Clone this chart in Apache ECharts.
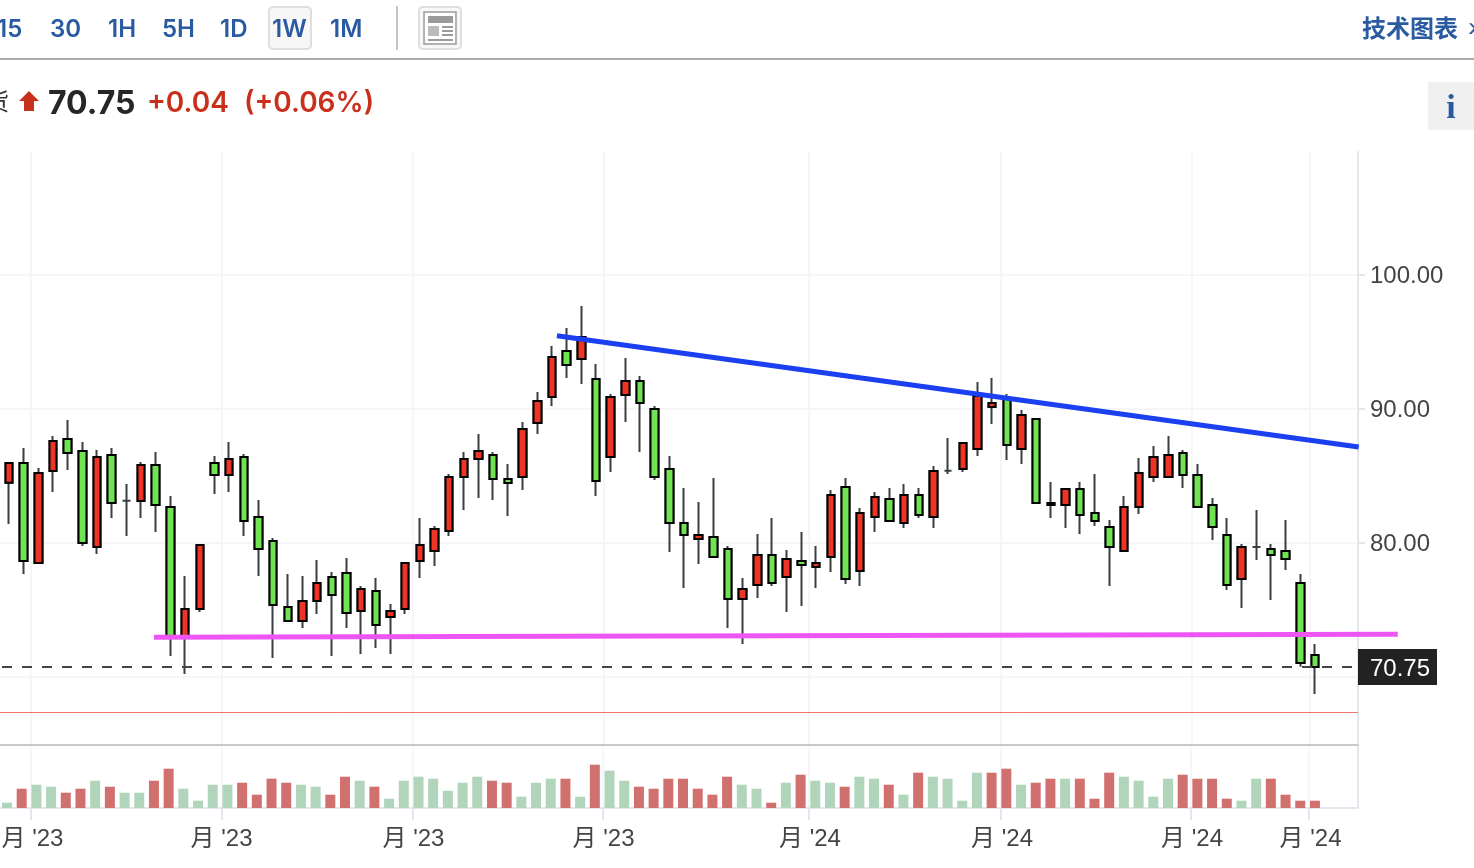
<!DOCTYPE html>
<html>
<head>
<meta charset="utf-8">
<title>chart</title>
<script src="https://cdn.jsdelivr.net/npm/echarts@6/dist/echarts.min.js"></script>
<style>
html, body { margin: 0; padding: 0; background: #fff; overflow: hidden; }
#chart { width: 1474px; height: 868px; }
</style>
</head>
<body>
<div id="chart"></div>
<script>
// weekly candles
var opens = [84.50,85.97,78.51,85.37,87.76,86.87,79.70,86.57,83.16,83.13,85.82,82.69,73.06,75.07,85.97,85.07,86.42,81.94,80.15,75.22,74.18,75.67,77.46,77.76,74.93,76.42,74.48,75.07,78.66,79.40,80.90,84.93,86.27,86.57,84.78,84.93,88.96,90.90,94.33,93.73,92.24,86.42,91.04,92.09,90.00,85.52,81.49,80.30,80.45,79.55,75.82,76.87,79.10,77.46,78.66,78.21,78.96,84.18,77.91,81.94,83.28,81.49,83.58,81.94,85.40,85.52,87.01,90.15,90.82,87.01,89.25,82.99,82.84,84.03,82.24,81.19,79.40,82.69,84.93,84.93,86.72,85.07,82.84,80.60,77.31,79.70,79.55,79.40,77.01,71.64];
var closes = [85.97,78.66,85.22,87.61,86.72,80.00,86.42,82.99,83.16,85.82,82.84,73.06,75.07,79.85,85.07,86.27,81.64,79.55,75.37,74.18,75.67,77.01,76.12,74.78,76.57,73.88,74.93,78.51,79.85,81.04,84.93,86.27,86.87,84.78,84.48,88.51,90.60,93.88,93.28,95.37,84.63,90.90,92.09,90.45,84.93,81.49,80.60,80.60,78.96,75.82,76.57,79.10,77.01,78.81,78.36,78.51,83.58,77.31,82.24,83.43,81.64,83.58,82.09,85.37,85.40,87.46,90.97,90.45,87.31,89.55,82.99,82.84,84.03,82.09,81.64,79.70,82.69,85.22,86.42,86.57,85.07,82.69,81.19,76.87,79.70,79.70,79.10,78.81,71.04,70.75];
var lows = [81.42,77.69,78.51,83.81,85.45,79.78,79.18,81.87,80.52,81.87,80.82,71.57,70.22,74.85,83.66,83.81,80.52,77.54,71.42,74.18,73.66,74.70,71.57,73.66,71.72,72.16,71.72,74.70,77.39,78.28,80.52,82.46,83.36,83.21,82.01,83.96,88.13,90.22,92.31,91.87,83.51,85.30,89.03,86.79,84.70,79.33,76.64,78.43,78.96,73.66,72.46,75.90,76.79,74.85,75.30,76.64,77.84,76.94,76.79,80.82,81.64,81.12,81.87,81.12,85.15,85.30,86.49,88.88,86.19,85.90,82.99,81.87,81.12,80.67,81.27,76.79,79.40,82.16,84.55,84.93,84.10,82.69,80.22,76.49,75.15,78.73,75.75,77.99,70.77,68.73];
var highs = [85.97,87.09,85.60,87.99,89.18,87.54,86.94,87.09,84.40,86.04,86.79,83.51,77.54,79.85,86.49,87.54,86.64,83.21,80.37,77.69,77.54,78.73,77.84,78.88,76.79,77.39,75.45,78.51,81.87,81.27,85.15,86.79,88.13,86.79,85.90,89.03,91.27,94.70,96.04,97.69,93.36,91.12,93.81,92.46,90.22,86.49,84.10,83.06,84.85,79.78,77.39,80.67,81.87,79.48,80.82,79.78,83.96,84.85,82.61,83.81,84.10,84.40,84.10,85.75,87.84,87.46,92.01,92.31,91.12,89.93,89.25,84.55,84.03,84.55,85.15,81.72,83.51,86.34,87.24,87.99,86.94,85.90,83.36,81.87,79.93,82.46,79.93,81.72,77.69,72.46];

var volumes = [5.3,19.3,23.3,21.3,15.3,19.3,27.3,21.3,15.3,15.3,27.3,39.3,19.3,7.3,23.3,23.3,25.3,13.3,29.3,25.3,23.3,21.3,13.3,31.3,27.3,21.3,9.3,27.3,31.3,29.3,17.3,25.3,31.3,27.3,25.3,11.3,25.3,29.3,29.3,11.3,43.3,37.3,27.3,21.3,19.3,29.3,29.3,19.3,13.3,31.3,23.3,19.3,5.3,25.3,33.3,27.3,25.3,21.3,31.3,29.3,23.3,13.3,35.3,31.3,29.3,7.3,35.3,35.3,39.3,23.3,25.3,29.3,29.3,29.3,9.3,35.3,31.3,27.3,11.3,29.3,33.3,29.3,29.3,9.3,7.3,29.3,29.3,13.3,7.3,7.3];
// 1 = red bar, 0 = green bar
var volumeSide = [0,1,0,0,1,1,0,1,0,0,1,1,0,0,0,0,1,1,1,1,0,0,1,1,0,1,0,0,0,0,0,0,0,1,1,0,0,0,1,0,1,0,0,1,1,1,1,1,1,1,0,0,1,0,1,0,0,1,0,0,1,0,1,0,0,0,0,1,1,0,1,1,0,1,1,1,0,0,0,0,1,1,1,1,0,0,1,1,1,1];

var priceTicks = [70, 80, 90, 100];
// labels sit a touch under their ticks in the picture
var priceLabelAt = [69.92, 79.92, 89.92, 99.92];
var dateTicks = [1.5, 14.52, 27.54, 40.5, 54.53, 67.6, 80.58, 88.62];
// same dates on the volume axis, which has a slightly different step
var volumeDateTicks = [1.633, 14.63, 27.63, 40.55, 54.57, 67.64, 80.57, 88.6];
var dateLabelAt = [1.735, 14.6, 27.66, 40.59, 54.64, 67.71, 80.64, 88.7];
var dateLabels = ["月 '23", "月 '23", "月 '23", "月 '23", "月 '24", "月 '24", "月 '24", "月 '24"];
var lastPrice = 70.75;
var redLevel = 67.34;
var blueLine = [[37.34, 95.47], [91.98, 87.16]];
var pinkLine = [[9.88, 72.96], [94.64, 73.19]];
var periods = [["15", -3], ["30", 50], ["1H", 108], ["5H", 162], ["1D", 220], ["1W", 272], ["1M", 330]];

var blue = '#2a5a9f', red = '#c9301c';
var candleRows = [], bodyRows = [], volumeRows = [];
for (var i = 0; i < opens.length; i++) {
	candleRows.push([i, opens[i], closes[i], lows[i], highs[i]]);
	// open == close has no body, the wick series draws the thin dash
	if (opens[i] != closes[i]) {
		bodyRows.push([i, opens[i], closes[i], Math.min(opens[i], closes[i]), Math.max(opens[i], closes[i])]);
	}
	volumeRows.push({
		value: [i, volumes[i]],
		itemStyle: { color: volumeSide[i] ? '#d1716f' : '#b1d5bb' }
	});
}

var headerItems = [
	{ type: 'rect', shape: { x: 0, y: 58, width: 1474, height: 2 }, style: { fill: '#adadad' } },
	{ type: 'rect', shape: { x: 269, y: 7, width: 42, height: 42, r: 4 }, style: { fill: '#f7f7f7', stroke: '#dedede', lineWidth: 2 } },
	{ type: 'rect', shape: { x: 396, y: 6, width: 2, height: 44 }, style: { fill: '#c4c4c4' } },
	{ type: 'rect', shape: { x: 419, y: 7, width: 42, height: 42, r: 4 }, style: { fill: '#f7f7f7', stroke: '#dedede', lineWidth: 2 } },
	{ type: 'rect', shape: { x: 424, y: 12, width: 32, height: 32 }, style: { fill: '#fff', stroke: '#9a9a9a', lineWidth: 1.5 } },
	{ type: 'rect', shape: { x: 428, y: 16, width: 25, height: 7 }, style: { fill: '#9a9a9a' } },
	{ type: 'rect', shape: { x: 428, y: 26, width: 11, height: 10 }, style: { fill: '#bbbbbb' } },
	{ type: 'rect', shape: { x: 442, y: 26, width: 11, height: 2 }, style: { fill: '#9a9a9a' } },
	{ type: 'rect', shape: { x: 442, y: 30, width: 11, height: 2 }, style: { fill: '#9a9a9a' } },
	{ type: 'rect', shape: { x: 442, y: 34, width: 11, height: 2 }, style: { fill: '#9a9a9a' } },
	{ type: 'rect', shape: { x: 428, y: 39, width: 25, height: 2 }, style: { fill: '#9a9a9a' } },
	{ type: 'text', x: 1362, y: 28, style: { text: '技术图表', fill: blue, font: 'bold 24px "Noto Sans CJK SC"', textVerticalAlign: 'middle' } },
	{ type: 'text', x: 1468, y: 28, style: { text: '›', fill: blue, font: '28px "Liberation Sans"', textVerticalAlign: 'middle' } },
	{ type: 'text', x: -15, y: 101, style: { text: '货', fill: '#333', font: '24px "Noto Sans CJK SC"', textVerticalAlign: 'middle' } },
	{ type: 'polygon', shape: { points: [[29, 91], [39, 101], [34, 101], [34, 111], [24, 111], [24, 101], [19, 101]] }, style: { fill: red } },
	{ type: 'text', x: 48, y: 104, style: { text: '70.75', fill: '#262626', font: '700 32px Inter', textVerticalAlign: 'middle' } },
	{ type: 'text', x: 147, y: 104, style: { text: '+0.04', fill: red, font: '600 28px Inter', textVerticalAlign: 'middle' } },
	{ type: 'text', x: 244, y: 104, style: { text: '(+0.06%)', fill: red, font: '600 28px Inter', textVerticalAlign: 'middle' } },
	{ type: 'rect', shape: { x: 1428, y: 82, width: 46, height: 48 }, style: { fill: '#f0f0f0' } },
	{ type: 'text', x: 1451, y: 109, style: { text: 'i', fill: blue, font: 'bold 34px "Liberation Serif"', textAlign: 'center', textVerticalAlign: 'middle' } },
	// last price tag on the axis
	{ type: 'rect', z: 100, shape: { x: 1358, y: 649, width: 79, height: 36 }, style: { fill: '#222' } },
	{ type: 'text', z: 101, x: 1370, y: 669, style: { text: lastPrice.toFixed(2), fill: '#fff', font: '24px "Liberation Sans"', textVerticalAlign: 'middle' } }
];
periods.forEach(function(p) {
	headerItems.push({ type: 'text', x: p[1], y: 30, style: { text: p[0], fill: blue, font: '600 24px Inter', textVerticalAlign: 'middle' } });
});

// the trend lines run past the plot edge, so they are not clipped to the grid
function trendLine(points, color, width) {
	return {
		type: 'custom',
		xAxisIndex: 0,
		yAxisIndex: 0,
		silent: true,
		z: 5,
		data: [points[0]],
		renderItem: function(params, api) {
			var a = api.coord(points[0]);
			var b = api.coord(points[1]);
			return {
				type: 'line',
				shape: { x1: a[0], y1: a[1], x2: b[0], y2: b[1] },
				style: { stroke: color, lineWidth: width }
			};
		}
	};
}

var myChart = echarts.init(document.getElementById('chart'));
var option = {
	animation: false,
	backgroundColor: '#fff',
	graphic: headerItems,
	// outerBoundsMode none: v6 would otherwise squeeze the grid to fit the labels
	grid: [
		{ left: 0, top: 152, width: 1358, height: 593, outerBoundsMode: 'none' },
		{ left: 0, top: 746, width: 1358, height: 62, outerBoundsMode: 'none' }
	],
	xAxis: [{
		type: 'value',
		gridIndex: 0,
		min: -0.613,
		max: 91.93,
		axisLine: { show: true, onZero: false, lineStyle: { color: '#c8c8c8', width: 2 } },
		axisTick: { show: false, customValues: dateTicks },
		axisLabel: { show: false },
		splitLine: { show: true, lineStyle: { color: '#f6f6f8', width: 2 } }
	}, {
		type: 'value',
		gridIndex: 1,
		min: -0.476,
		max: 91.93,
		containShape: false,
		axisLine: { show: true, onZero: false, lineStyle: { color: '#e3e6ec', width: 2 } },
		axisTick: { show: true, length: 12, customValues: volumeDateTicks, lineStyle: { color: '#e3e6ec', width: 2 } },
		axisLabel: {
			show: true,
			customValues: dateLabelAt,
			margin: 19,
			color: '#444',
			fontSize: 24,
			fontFamily: '"Liberation Sans", "Noto Sans CJK SC"',
			formatter: function(v) {
				return dateLabels[dateLabelAt.indexOf(v)];
			}
		},
		splitLine: { show: true, lineStyle: { color: '#f6f6f8', width: 2 } }
	}],
	yAxis: [{
		type: 'value',
		gridIndex: 0,
		position: 'right',
		min: 64.925,
		max: 109.18,
		axisLine: { show: true, onZero: false, lineStyle: { color: '#e3e6ec', width: 2 } },
		axisTick: { show: true, length: 7, customValues: priceTicks, lineStyle: { color: '#e3e6ec', width: 2 } },
		axisLabel: {
			show: true,
			customValues: priceLabelAt,
			margin: 12,
			color: '#444',
			fontSize: 24,
			fontFamily: '"Liberation Sans"',
			formatter: function(v) {
				return priceTicks[priceLabelAt.indexOf(v)].toFixed(2);
			}
		},
		splitLine: { show: true, lineStyle: { color: '#f6f6f8', width: 2 } }
	}, {
		type: 'value',
		gridIndex: 1,
		position: 'right',
		min: 0,
		max: 62,
		axisLine: { show: true, onZero: false, lineStyle: { color: '#e3e6ec', width: 2 } },
		axisTick: { show: false },
		axisLabel: { show: false },
		splitLine: { show: false }
	}],
	series: [{
		// wicks, thin and grey
		type: 'candlestick',
		xAxisIndex: 0,
		yAxisIndex: 0,
		barWidth: 8,
		silent: true,
		data: candleRows,
		itemStyle: {
			color: '#373f43',
			color0: '#373f43',
			borderColor: '#373f43',
			borderColor0: '#373f43',
			borderColorDoji: '#373f43',
			borderWidth: 2
		},
		markLine: {
			silent: true,
			symbol: 'none',
			animation: false,
			label: { show: false },
			data: [{
				yAxis: lastPrice,
				lineStyle: { color: '#444', type: [10, 10], dashOffset: 18, width: 2 }
			}, {
				yAxis: redLevel,
				lineStyle: { color: '#f0756b', type: 'solid', width: 1 }
			}]
		}
	}, {
		// bodies with a heavy black border
		type: 'candlestick',
		xAxisIndex: 0,
		yAxisIndex: 0,
		barWidth: 8,
		silent: true,
		data: bodyRows,
		itemStyle: {
			color: '#ee3424',
			color0: '#70e352',
			borderColor: '#000',
			borderColor0: '#000',
			borderColorDoji: '#000',
			borderWidth: 2
		}
	},
	trendLine(blueLine, '#1a40f2', 5),
	trendLine(pinkLine, '#ee55f5', 5),
	{
		type: 'bar',
		xAxisIndex: 1,
		yAxisIndex: 1,
		barWidth: 10,
		silent: true,
		data: volumeRows
	}]
};
myChart.setOption(option);
</script>
</body>
</html>
